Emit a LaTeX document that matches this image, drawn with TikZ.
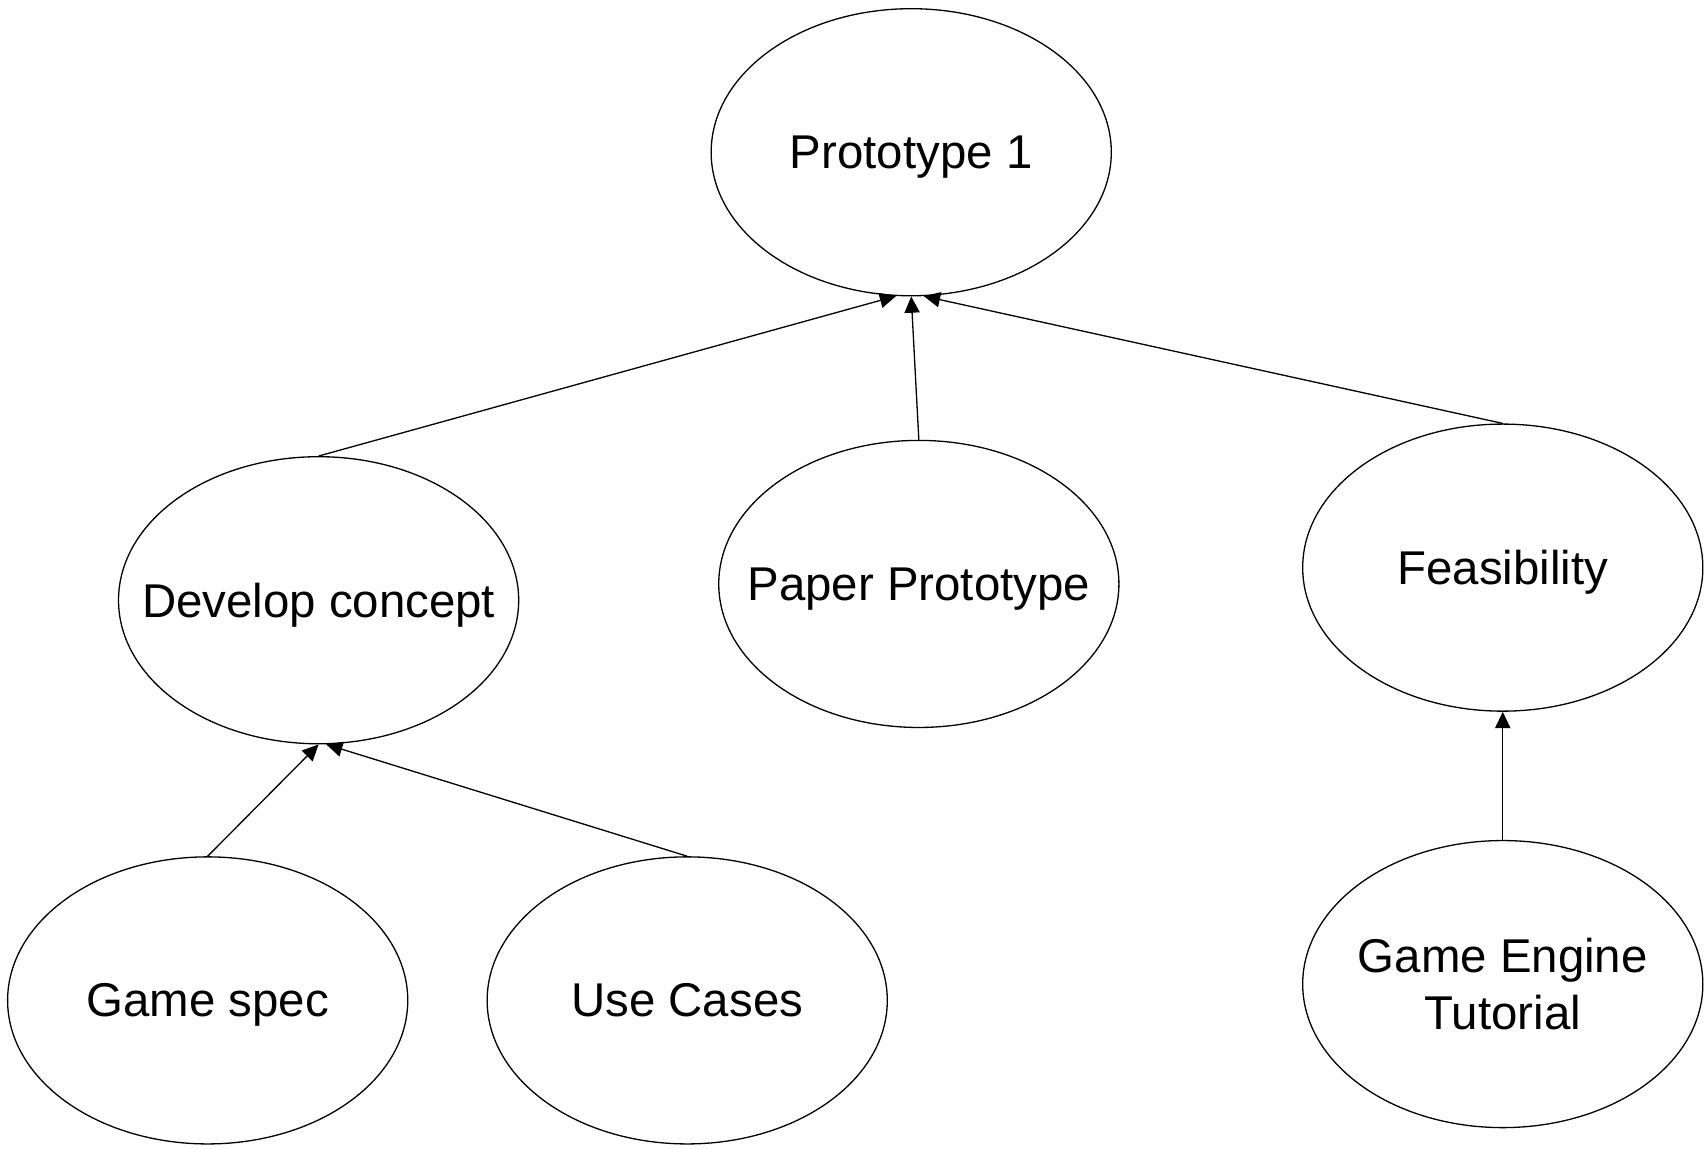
\documentclass[tikz,border=0pt]{standalone}
\usepackage{fontspec}
\setmainfont{Liberation Sans}
\usetikzlibrary{shapes.geometric,arrows.meta}
\begin{document}
\begin{tikzpicture}[x=0.5pt,y=-0.5pt,
  oval/.style={draw,line width=0.6pt,ellipse,inner sep=0pt,minimum width=184pt,minimum height=132pt,
    font=\fontsize{21.8}{26.2}\selectfont,align=center,text depth=0pt},
  link/.style={line width=0.6pt,-{Triangle[length=7.5pt,width=7pt]}}]
\useasboundingbox (0,0) rectangle (1568,1056);
\node[oval] (p1) at (838,140) {\makebox[0pt]{Prototype 1}};
\node[oval] (dc) at (293,552) {\makebox[0pt]{Develop concept}};
\node[oval] (pp) at (845,537) {\makebox[0pt]{Paper Prototype}};
\node[oval] (fe) at (1382,522) {\makebox[0pt]{Feasibility}};
\node[oval] (gs) at (191,920) {\makebox[0pt]{Game spec}};
\node[oval] (uc) at (632,920) {\makebox[0pt]{Use Cases}};
\node[oval] (ge) at (1382,905) {\makebox[0pt]{Game Engine}\\\makebox[0pt]{Tutorial}};
\draw[link] (dc.north) -- (p1.264.5);
\draw[link] (pp.north) -- (p1.south);
\draw[link] (fe.north) -- (p1.275.5);
\draw[link] (gs.north) -- (dc.south);
\draw[link] (uc.north) -- (dc.273.5);
\draw[link] (ge.north) -- (fe.south);
\end{tikzpicture}
\end{document}
